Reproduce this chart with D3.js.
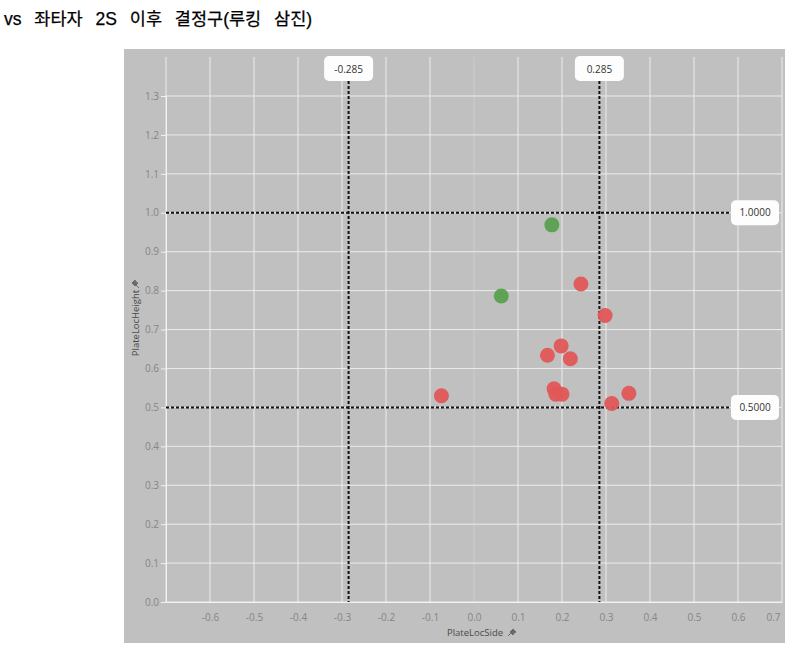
<!DOCTYPE html>
<html>
<head>
<meta charset="utf-8">
<script src="https://cdn.jsdelivr.net/npm/d3@7"></script>
<style>
  body { margin: 0; background: #fff; }
  svg text { font-family: "Open Sans", "Noto Sans", sans-serif; }
</style>
</head>
<body>
<div id="chart"></div>
<script>
// pitch locations (PlateLocSide, PlateLocHeight)
var sideValues   = [0.177, 0.062, 0.243, 0.298, 0.198, 0.167, 0.219, 0.182, 0.186, 0.200, -0.074, 0.313, 0.352];
var heightValues = [0.969, 0.786, 0.817, 0.736, 0.658, 0.634, 0.625, 0.548, 0.534, 0.534, 0.530, 0.510, 0.536];
var pitchResult  = ["green", "green", "red", "red", "red", "red", "red", "red", "red", "red", "red", "red", "red"];
var xTicks = [-0.6, -0.5, -0.4, -0.3, -0.2, -0.1, 0.0, 0.1, 0.2, 0.3, 0.4, 0.5, 0.6, 0.7];
var yTicks = [0.0, 0.1, 0.2, 0.3, 0.4, 0.5, 0.6, 0.7, 0.8, 0.9, 1.0, 1.1, 1.2, 1.3];
var sideRefs   = [-0.285, 0.285];
var heightRefs = [0.5, 1.0];

var colors = { red: "#e15759", green: "#59a14f" };

var W = 796, H = 652;
var svg = d3.select("#chart").append("svg")
  .attr("width", W)
  .attr("height", H);

svg.append("text")
  .attr("x", 4)
  .attr("y", 25)
  .style("font-family", "'Liberation Sans', 'Noto Sans CJK KR', sans-serif")
  .style("font-size", "17.5px")
  .style("word-spacing", "8px")
  .attr("fill", "#000")
  .attr("stroke", "#000")
  .attr("stroke-width", 0.25)
  .text("vs 좌타자 2S 이후 결정구(루킹 삼진)");

// grey panel
svg.append("rect")
  .attr("x", 124).attr("y", 49)
  .attr("width", 661).attr("height", 594)
  .attr("fill", "#c0c0c0");

var x = d3.scaleLinear().domain([-0.7, 0.7]).range([166, 782]);
var y = d3.scaleLinear().domain([0, 1.3]).range([602, 96]);
var yTop = y(1.4);

var grid = svg.append("g");
grid.selectAll("line.v")
  .data(xTicks.concat([-0.7]))
  .enter().append("line")
  .attr("x1", function (d) { return x(d); })
  .attr("x2", function (d) { return x(d); })
  .attr("y1", yTop).attr("y2", y(0))
  .attr("stroke", function (d) { return Math.abs(d) < 1e-9 ? "#cdcdcd" : "#ececec"; })
  .attr("stroke-width", 1);
grid.selectAll("line.h")
  .data(yTicks)
  .enter().append("line")
  .attr("x1", x(-0.7)).attr("x2", 782)
  .attr("y1", function (d) { return y(d); })
  .attr("y2", function (d) { return y(d); })
  .attr("stroke", "#ececec")
  .attr("stroke-width", 1);

// axes
var fmt1 = function (d) { return d3.format(".1f")(d).replace("−", "-"); };
var xAxis = svg.append("g")
  .attr("transform", "translate(0," + y(0) + ")")
  .call(d3.axisBottom(x).tickValues(xTicks).tickSize(0).tickPadding(12)
    .tickFormat(fmt1));
var yAxis = svg.append("g")
  .attr("transform", "translate(" + x(-0.7) + ",0)")
  .call(d3.axisLeft(y).tickValues(yTicks).tickSize(5).tickPadding(2)
    .tickFormat(fmt1));
[xAxis, yAxis].forEach(function (a) {
  a.select(".domain").attr("stroke", "#f2f2f2");
  a.selectAll(".tick line").attr("stroke", "#f2f2f2");
  a.selectAll("text").attr("fill", "#858585").style("font-size", "10px");
});
xAxis.selectAll(".tick text")
  .attr("dx", function (d) { return Math.abs(d - 0.7) < 1e-9 ? "-9" : "0"; });

// axis titles with pin marks
var pin = "M0,0 l3,-3 l3,3 l-2,1 l-1,2 z M1,1 l-3,3";
svg.append("text")
  .attr("x", 475).attr("y", 636)
  .attr("text-anchor", "middle")
  .attr("fill", "#4a4a4a")
  .style("font-size", "9.5px")
  .text("PlateLocSide");
svg.append("path")
  .attr("d", pin)
  .attr("transform", "translate(510,632)")
  .attr("fill", "#6a6a6a").attr("stroke", "#6a6a6a").attr("stroke-width", 1);
svg.append("text")
  .attr("transform", "translate(139,323) rotate(-90)")
  .attr("text-anchor", "middle")
  .attr("fill", "#4a4a4a")
  .style("font-size", "9.5px")
  .text("PlateLocHeight");
svg.append("path")
  .attr("d", pin)
  .attr("transform", "translate(135,286) rotate(-90)")
  .attr("fill", "#6a6a6a").attr("stroke", "#6a6a6a").attr("stroke-width", 1);

// reference lines
var refs = svg.append("g");
refs.selectAll("line.vr")
  .data(sideRefs)
  .enter().append("line")
  .attr("x1", function (d) { return x(d); })
  .attr("x2", function (d) { return x(d); })
  .attr("y1", 81).attr("y2", y(0))
  .attr("stroke", "#111").attr("stroke-width", 2)
  .attr("stroke-dasharray", "3,2");
refs.selectAll("line.hr")
  .data(heightRefs)
  .enter().append("line")
  .attr("x1", x(-0.7)).attr("x2", 731)
  .attr("y1", function (d) { return y(d); })
  .attr("y2", function (d) { return y(d); })
  .attr("stroke", "#111").attr("stroke-width", 2)
  .attr("stroke-dasharray", "3,2");

// points
svg.append("g").selectAll("circle")
  .data(sideValues)
  .enter().append("circle")
  .attr("cx", function (d) { return x(d); })
  .attr("cy", function (d, i) { return y(heightValues[i]); })
  .attr("r", 7.5)
  .attr("fill", function (d, i) { return colors[pitchResult[i]]; })
  .attr("fill-opacity", 0.95);

// reference labels
var sideLab = svg.append("g").selectAll("g")
  .data(sideRefs)
  .enter().append("g")
  .attr("transform", function (d) { return "translate(" + x(d) + ",56)"; });
sideLab.append("rect")
  .attr("x", -24.5).attr("y", 0)
  .attr("width", 49).attr("height", 25)
  .attr("rx", 5)
  .attr("fill", "#fdfdfd");
sideLab.append("text")
  .attr("y", 16.5)
  .attr("text-anchor", "middle")
  .attr("fill", "#333")
  .style("font-size", "10px")
  .text(function (d) { return d3.format(".3f")(d).replace("−", "-"); });

var heightLab = svg.append("g").selectAll("g")
  .data(heightRefs)
  .enter().append("g")
  .attr("transform", function (d) { return "translate(731," + y(d) + ")"; });
heightLab.append("rect")
  .attr("x", 0).attr("y", -12.5)
  .attr("width", 48).attr("height", 25)
  .attr("rx", 5)
  .attr("fill", "#fdfdfd");
heightLab.append("text")
  .attr("x", 24).attr("y", 3.5)
  .attr("text-anchor", "middle")
  .attr("fill", "#333")
  .style("font-size", "10px")
  .text(function (d) { return d3.format(".4f")(d); });
</script>
</body>
</html>
